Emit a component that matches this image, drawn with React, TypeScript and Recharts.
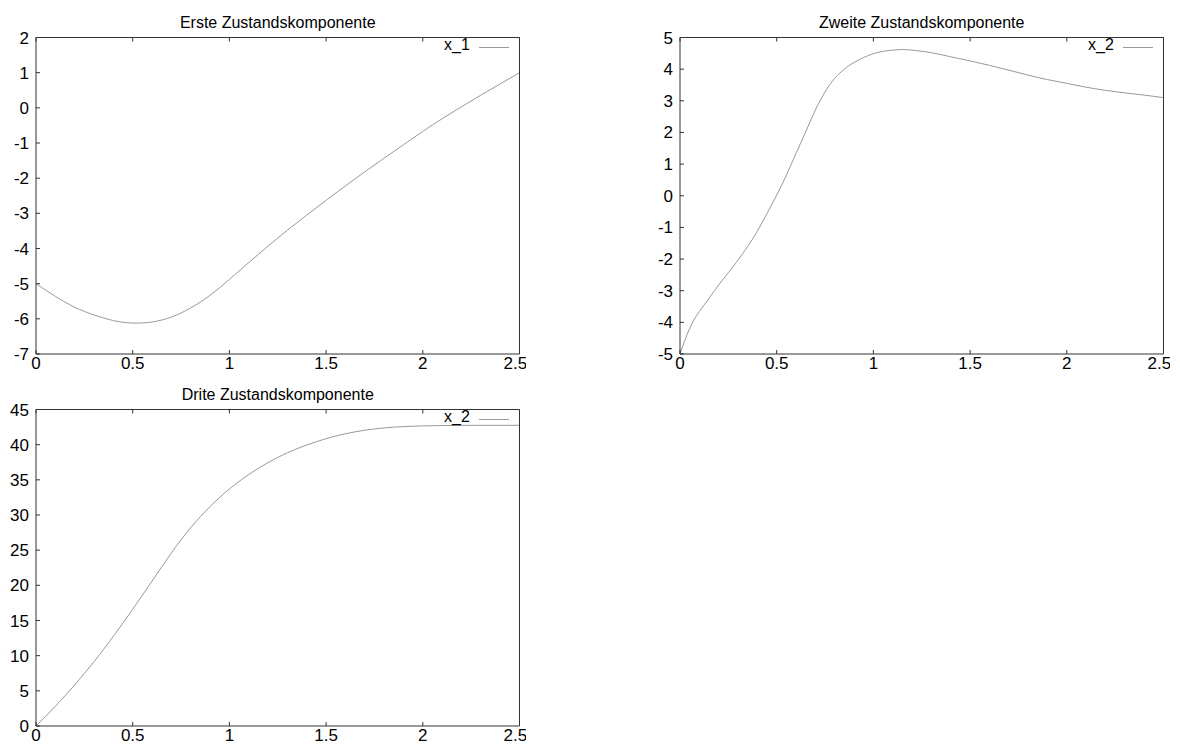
import { LineChart, Line, XAxis, YAxis, Legend } from 'recharts'

// Zeitpunkte und Zustandswerte
const tFirst = [0, 0.1, 0.2, 0.3, 0.4, 0.5, 0.6, 0.7, 0.8, 0.9, 1.0, 1.1, 1.2, 1.3, 1.4, 1.5, 1.6, 1.7, 1.8, 1.9, 2.0, 2.1, 2.2, 2.3, 2.4, 2.5]
const x1Values = [-5.0, -5.36, -5.67, -5.89, -6.05, -6.12, -6.09, -5.95, -5.69, -5.33, -4.88, -4.4, -3.93, -3.48, -3.05, -2.63, -2.22, -1.82, -1.43, -1.05, -0.67, -0.31, 0.03, 0.36, 0.68, 1.0]

const tSecond = [0, 0.05, 0.1, 0.15, 0.2, 0.25, 0.3, 0.35, 0.4, 0.45, 0.5, 0.55, 0.6, 0.65, 0.7, 0.75, 0.8, 0.85, 0.9, 1.0, 1.1, 1.15, 1.2, 1.3, 1.4, 1.5, 1.6, 1.7, 1.8, 1.9, 2.0, 2.1, 2.2, 2.3, 2.4, 2.5]
const x2Values = [-5.0, -4.19, -3.66, -3.24, -2.82, -2.43, -2.03, -1.6, -1.12, -0.56, 0.02, 0.65, 1.34, 2.02, 2.71, 3.28, 3.71, 4.0, 4.21, 4.49, 4.6, 4.62, 4.6, 4.52, 4.39, 4.26, 4.12, 3.97, 3.81, 3.67, 3.55, 3.43, 3.33, 3.25, 3.18, 3.1]

const tThird = tFirst
const x3Values = [0, 2.8, 5.85, 9.15, 12.75, 16.6, 20.6, 24.6, 28.2, 31.2, 33.7, 35.75, 37.45, 38.85, 39.95, 40.85, 41.55, 42.05, 42.38, 42.57, 42.67, 42.72, 42.74, 42.75, 42.75, 42.75]

const xTicks = [0, 0.5, 1, 1.5, 2, 2.5]
const yTicksFirst = [-7, -6, -5, -4, -3, -2, -1, 0, 1, 2]
const yTicksSecond = [-5, -4, -3, -2, -1, 0, 1, 2, 3, 4, 5]
const yTicksThird = [0, 5, 10, 15, 20, 25, 30, 35, 40, 45]

const FONT = '"Liberation Sans", Arial, Helvetica, sans-serif'
const AXIS = '#333'
const CURVE = '#999'

type PanelProps = {
  title: string
  name: string
  t: number[]
  values: number[]
  yTicks: number[]
  left: number
  top: number
}

function Panel({ title, name, t, values, yTicks, left, top }: PanelProps) {
  const data = t.map((time, i) => ({ t: time, v: values[i] }))
  const yDomain = [yTicks[0], yTicks[yTicks.length - 1]]
  const blank = () => ''

  return (
    <div style={{ position: 'absolute', left, top, width: 526, height: 372, overflow: 'hidden' }}>
      <LineChart width={526} height={372} data={data} margin={{ top: 36.5, right: 5.5, bottom: 0, left: 0 }}>
        <XAxis
          dataKey="t"
          type="number"
          domain={[0, 2.5]}
          ticks={xTicks}
          height={18}
          stroke={AXIS}
          tickSize={-4}
          tickMargin={7}
          tick={{ fill: '#000', fontSize: 17 }}
        />
        <XAxis
          xAxisId="top"
          orientation="top"
          dataKey="t"
          type="number"
          domain={[0, 2.5]}
          ticks={xTicks}
          height={1}
          stroke={AXIS}
          tickSize={-4}
          tickFormatter={blank}
        />
        <YAxis
          type="number"
          domain={yDomain}
          ticks={yTicks}
          width={36}
          stroke={AXIS}
          tickSize={-4}
          tickMargin={11}
          tick={{ fill: '#000', fontSize: 17 }}
        />
        <YAxis
          yAxisId="right"
          orientation="right"
          type="number"
          domain={yDomain}
          ticks={yTicks}
          width={1}
          stroke={AXIS}
          tickSize={-4}
          tickFormatter={blank}
        />
        <Legend
          verticalAlign="middle"
          align="center"
          layout="horizontal"
          width={80}
          height={16}
          wrapperStyle={{ left: 444, top: 36.5, right: 'auto', bottom: 'auto', width: 80, height: 16 }}
          content={() => (
            <div style={{ display: 'flex', alignItems: 'flex-start', lineHeight: '16px', fontSize: 16, color: '#000', whiteSpace: 'nowrap' }}>
              <span>{name}</span>
              <div style={{ width: 30, height: 1, background: CURVE, marginLeft: 9, marginTop: 10 }} />
            </div>
          )}
        />
        <Line
          type="natural"
          dataKey="v"
          name={name}
          stroke={CURVE}
          strokeWidth={1}
          dot={false}
          isAnimationActive={false}
        />
      </LineChart>
      <div
        style={{
          position: 'absolute',
          left: 36,
          top: 14.5,
          width: 483.5,
          textAlign: 'center',
          fontSize: 16,
          lineHeight: '16px',
          color: '#000',
        }}
      >
        {title}
      </div>
    </div>
  )
}

export default function App() {
  return (
    <div style={{ position: 'absolute', left: 0, top: 0, width: 1180, height: 747, background: '#fff', fontFamily: FONT }}>
      <Panel title="Erste Zustandskomponente" name="x_1" t={tFirst} values={x1Values} yTicks={yTicksFirst} left={0} top={0} />
      <Panel title="Zweite Zustandskomponente" name="x_2" t={tSecond} values={x2Values} yTicks={yTicksSecond} left={644} top={0} />
      <Panel title="Drite Zustandskomponente" name="x_2" t={tThird} values={x3Values} yTicks={yTicksThird} left={0} top={372} />
    </div>
  )
}
